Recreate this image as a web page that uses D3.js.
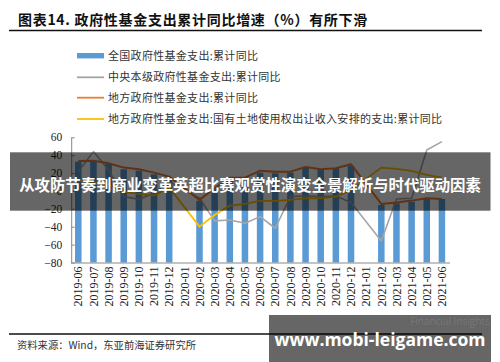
<!DOCTYPE html>
<html><head><meta charset="utf-8">
<script src="https://cdn.jsdelivr.net/npm/d3@7"></script>
<style>html,body{margin:0;padding:0;background:#fff;}svg{display:block;}</style>
</head><body>
<script>
const categories = ['2019-06','2019-07','2019-08','2019-09','2019-10','2019-11','2019-12','2020-01','2020-02','2020-03','2020-04','2020-05','2020-06','2020-07','2020-08','2020-09','2020-10','2020-11','2020-12','2021-01','2021-02','2021-03','2021-04','2021-05','2021-06'];
const national = [32.8,33,30.6,24.2,22.7,18.6,13,null,-11,2,13.4,14.2,20.5,19.8,20.5,25.7,24.6,25.3,28,null,-15.6,-13.8,-12,-9,-9];
const central  = [21.6,44,23.5,-6.3,-9.3,-2.6,10.4,null,-8,-33.5,-32.4,-36.2,-28.7,-41.7,-6.3,-5.6,-6.3,-5.6,-13,null,-55.9,-9,-8.2,45.8,55.2];
const local    = [33.5,33.9,30.9,26.1,24.2,20.5,16,null,-10,3,14.9,14.9,22.7,21.6,21.6,26.8,24.2,25.3,29.8,null,-14.5,-13,-10.8,-8.2,-8.9];
const land     = [11,10.4,7.4,-1,-3.2,-5.2,4,null,-39.9,-26.8,-16.4,-14.5,-11.2,-11.2,-10,-8.2,-8.2,-6.3,1.1,null,26.1,24.6,22.4,17.9,14.9];
const yTicks = [60,40,20,0,-20,-40,-60,-80];
const legendLabels = ['全国政府性基金支出:累计同比','中央本级政府性基金支出:累计同比','地方政府性基金支出:累计同比','地方政府性基金支出:国有土地使用权出让收入安排的支出:累计同比'];
const title = '图表14. 政府性基金支出累计同比增速（%）有所下滑';
const source = '资料来源：Wind，东亚前海证券研究所';
const overlayText = '从攻防节奏到商业变革英超比赛观赏性演变全景解析与时代驱动因素';
const siteText = 'www.mobi-leigame.com';

const W = 500, H = 362;
const svg = d3.select('body').append('svg').attr('width', W).attr('height', H);
const cjk = '"Noto Sans CJK SC", "Noto Sans", sans-serif';
const serif = '"Liberation Serif", "DejaVu Serif", serif';

// title
svg.append('text').attr('x', 18).attr('y', 25).attr('font-family', cjk).attr('font-weight', 700)
  .attr('font-size', 14).attr('letter-spacing', 0.7).attr('fill', '#111').text(title);
svg.append('line').attr('x1', 9).attr('x2', 482).attr('y1', 30.5).attr('y2', 30.5).attr('stroke', '#111').attr('stroke-width', 1.5);

const x = d3.scaleBand().domain(categories).range([70.7, 449.5]).paddingInner(0.57).paddingOuter(0.285);
const y = d3.scaleLinear().domain([-80, 60]).range([262.5, 137.3]);
const colors = {bar: '#5B9BD5', central: '#A5A5A5', local: '#ED7D31', land: '#FFC000'};

// bars from axis min
svg.append('g').selectAll('rect').data(categories.map((c, i) => ({c, v: national[i]})).filter(d => d.v != null))
  .join('rect').attr('x', d => x(d.c)).attr('width', x.bandwidth())
  .attr('y', d => y(d.v)).attr('height', d => y(-80) - y(d.v)).attr('fill', colors.bar);

// axes
const yAxis = d3.axisLeft(y).tickValues(yTicks).tickSize(0).tickPadding(9);
const gy = svg.append('g').attr('transform', 'translate(71.2,0)').call(yAxis);
gy.select('.domain').attr('stroke', '#888');
gy.selectAll('text').attr('font-family', serif).attr('font-size', 11.5).attr('fill', '#222');
gy.selectAll('.tick').append('line').attr('x1', 0).attr('x2', 3.5).attr('stroke', '#888');

const xAxis = d3.axisBottom(x).tickSize(0).tickPadding(4);
const gx = svg.append('g').attr('transform', `translate(0,${y(-80)})`).call(xAxis);
gx.select('.domain').attr('stroke', '#888');
gx.selectAll('text').attr('font-family', serif).attr('font-size', 12).attr('fill', '#222')
  .attr('transform', 'rotate(-90)').attr('text-anchor', 'end').attr('dy', '0.35em').attr('x', -4).attr('y', 0);

// lines
const pts = arr => categories.map((c, i) => ({c, v: arr[i]})).filter(d => d.v != null);
const line = d3.line().x(d => x(d.c) + x.bandwidth() / 2).y(d => y(d.v));
[[central, colors.central, 1.6], [local, colors.local, 2], [land, colors.land, 1.8]].forEach(([arr, col, w]) => {
  svg.append('path').datum(pts(arr)).attr('d', line).attr('fill', 'none').attr('stroke', col).attr('stroke-width', w).attr('stroke-linejoin', 'round');
});

// legend
const lg = svg.append('g');
const legY = [55.7, 77.3, 97.7, 119];
legendLabels.forEach((t, i) => {
  if (i === 0) lg.append('rect').attr('x', 77).attr('y', legY[i] - 2.7).attr('width', 27).attr('height', 5.4).attr('fill', colors.bar);
  else lg.append('line').attr('x1', 77).attr('x2', 104).attr('y1', legY[i]).attr('y2', legY[i])
    .attr('stroke', [null, colors.central, colors.local, colors.land][i]).attr('stroke-width', 1.8);
  lg.append('text').attr('x', 108).attr('y', legY[i] + 3.9).attr('font-family', cjk).attr('font-size', 11)
    .attr('letter-spacing', 0.3).attr('fill', '#333').text(t);
});

// source
svg.append('line').attr('x1', 9).attr('x2', 482).attr('y1', 334).attr('y2', 334).attr('stroke', '#111').attr('stroke-width', 1.5);
svg.append('text').attr('x', 17).attr('y', 349).attr('font-family', cjk).attr('font-size', 10.3).attr('fill', '#333').text(source);

// overlay banners
svg.append('rect').attr('x', 10).attr('y', 152.3).attr('width', 480.5).attr('height', 58.4).attr('fill', 'rgba(0,0,0,0.6)');
svg.append('text').attr('x', 250).attr('y', 184).attr('text-anchor', 'middle').attr('dominant-baseline', 'central')
  .attr('font-family', cjk).attr('font-weight', 700).attr('font-size', 15.4).attr('fill', '#fff').text(overlayText);
svg.append('rect').attr('x', 269).attr('y', 315).attr('width', 222).attr('height', 47).attr('fill', 'rgba(0,0,0,0.6)');
svg.append('text').attr('x', 410).attr('y', 325).attr('font-family', '"Open Sans", sans-serif').attr('font-size', 10)
  .attr('fill', 'rgba(255,255,255,0.12)').text('Financial Insights');
svg.append('text').attr('x', 380).attr('y', 339).attr('text-anchor', 'middle').attr('dominant-baseline', 'central')
  .attr('font-family', '"Open Sans", "Noto Sans", sans-serif').attr('font-weight', 700).attr('font-size', 17.5).attr('fill', '#fff').text(siteText);
</script>
</body></html>
